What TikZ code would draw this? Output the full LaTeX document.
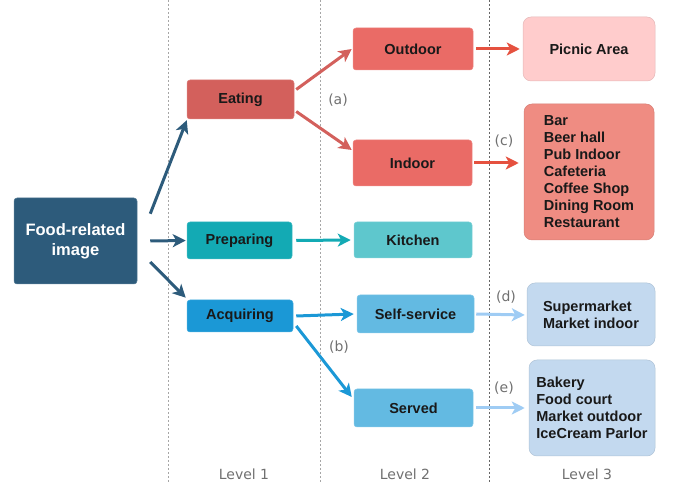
\documentclass[tikz,border=0pt]{standalone}
\usepackage{fontspec}
\setmainfont{Liberation Sans}
\newfontfamily\lvlfont{DejaVu Sans}
\usetikzlibrary{arrows.meta}

\definecolor{rootblue}{HTML}{2D5B7B}
\definecolor{eatred}{HTML}{D3605C}
\definecolor{redtwo}{HTML}{EA6B66}
\definecolor{arrred}{HTML}{E5513F}
\definecolor{pinkbox}{HTML}{FFCCCC}
\definecolor{salmon}{HTML}{EF8C82}
\definecolor{prepteal}{HTML}{13AAB4}
\definecolor{tealtwo}{HTML}{5EC7CD}
\definecolor{acqblue}{HTML}{1B98D6}
\definecolor{bluetwo}{HTML}{63BAE2}
\definecolor{paleblue}{HTML}{C3D9EF}
\definecolor{arrpale}{HTML}{9FCCF4}
\definecolor{lvlgray}{HTML}{707070}

\begin{document}
\begin{tikzpicture}[x=1pt,y=-1pt]
    \tikzstyle{box}=[rounded corners=3pt,draw=white!70!black,line width=0.5pt,
      text=black!90,font=\bfseries\fontsize{14.5}{17}\selectfont,align=center];
    \tikzstyle{leaf}=[box,rounded corners=8pt,align=left];
    \tikzstyle{tag}=[text=lvlgray,font=\lvlfont\fontsize{14}{16}\selectfont];
    \tikzstyle{link}=[line width=3pt,-{Stealth[length=13pt,width=13pt,inset=3.5pt]}];
    \tikzstyle{sep}=[gray!70,line width=1pt,dash pattern=on 2pt off 2pt];
    \useasboundingbox (0,0) rectangle (673,486);

    \draw[sep] (168,0) -- (168,482); \draw[sep] (320,0) -- (320,482);
    \draw[sep,black!60] (489,0) -- (489,482);

    \node (0) [box,fill=rootblue,draw=rootblue!80!white,text=white,
      font=\bfseries\fontsize{16.5}{20}\selectfont,
      minimum width=123,minimum height=86] at (75.5,241) {Food-related\\image};

    \node (1) [box,fill=eatred,draw=eatred!80!white,minimum width=107,minimum height=39] at (240.5,99.5) {Eating};
    \node (2) [box,fill=prepteal,draw=prepteal!80!white,minimum width=105,minimum height=37] at (239.5,240.5) {Preparing};
    \node (3) [box,fill=acqblue,draw=acqblue!80!white,minimum width=106,minimum height=32] at (240,316) {Acquiring};

    \node (4) [box,fill=redtwo,draw=redtwo!80!white,minimum width=120,minimum height=42] at (413,49) {Outdoor};
    \node (5) [box,fill=redtwo,draw=redtwo!80!white,minimum width=119,minimum height=46] at (412.5,163) {Indoor};
    \node (6) [box,fill=tealtwo,draw=tealtwo!80!white,minimum width=118,minimum height=36] at (413,240) {Kitchen};
    \node (7) [box,fill=bluetwo,draw=bluetwo!80!white,minimum width=117,minimum height=38] at (415.5,314) {Self-service};
    \node (8) [box,fill=bluetwo,draw=bluetwo!80!white,minimum width=119,minimum height=38] at (413.5,408) {Served};

    \node (9) [leaf,fill=pinkbox,draw=pinkbox!90!black,align=center,minimum width=132,minimum height=64] at (589,49) {Picnic Area};
    \node (10) [leaf,fill=salmon,draw=salmon!90!black,minimum width=130,minimum height=136] at (589,172)
      {Bar\\Beer hall\\Pub Indoor\\Cafeteria\\Coffee Shop\\Dining Room\\Restaurant};
    \node (11) [leaf,fill=paleblue,draw=paleblue!90!black,minimum width=128,minimum height=63] at (591,314.5)
      {Supermarket\\Market indoor};
    \node (12) [leaf,fill=paleblue,draw=paleblue!90!black,minimum width=126,minimum height=96] at (592,408)
      {Bakery\\Food court\\Market outdoor\\IceCream Parlor};

    \node (la) [tag] at (338,100) {(a)};
    \node (lb) [tag] at (339,347) {(b)};
    \node (lc) [tag] at (504,141) {(c)};
    \node (ld) [tag] at (506,297) {(d)};
    \node (le) [tag] at (504,388) {(e)};

    \node (l1) [tag] at (244,474) {Level 1};
    \node (l2) [tag] at (405,474) {Level 2};
    \node (l3) [tag] at (587,474) {Level 3};

    \path ([shift={(13,16)}]0.north east) edge [link,rootblue] ([shift={(0,1)}]1.south west)
    ([xshift=13]0.east) edge [link,rootblue] ([xshift=-1]2.west)
    ([shift={(13,21)}]0.east) edge [link,rootblue] ([shift={(-1,-2)}]3.north west)
    ([shift={(2,-10)}]1.east) edge [link,eatred] ([xshift=-1]4.west)
    ([shift={(2,12)}]1.east) edge [link,eatred] ([shift={(-1,-13)}]5.west)
    ([xshift=4]2.east) edge [link,prepteal] ([xshift=-3]6.west)
    ([xshift=3]3.east) edge [link,acqblue] ([shift={(-3,0)}]7.west)
    ([shift={(3,10)}]3.east) edge [link,acqblue] ([shift={(-2,-11)}]8.west)
    ([xshift=3]4.east) edge [link,arrred] ([xshift=-3]9.west)
    ([xshift=2]5.east) edge [link,arrred] ([shift={(-5,-9)}]10.west)
    ([xshift=2]7.east) edge [link,arrpale] ([shift={(-2,0.5)}]11.west)
    ([xshift=3]8.east) edge [link,arrpale] ([xshift=-4]12.west);
  \end{tikzpicture}
\end{document}
